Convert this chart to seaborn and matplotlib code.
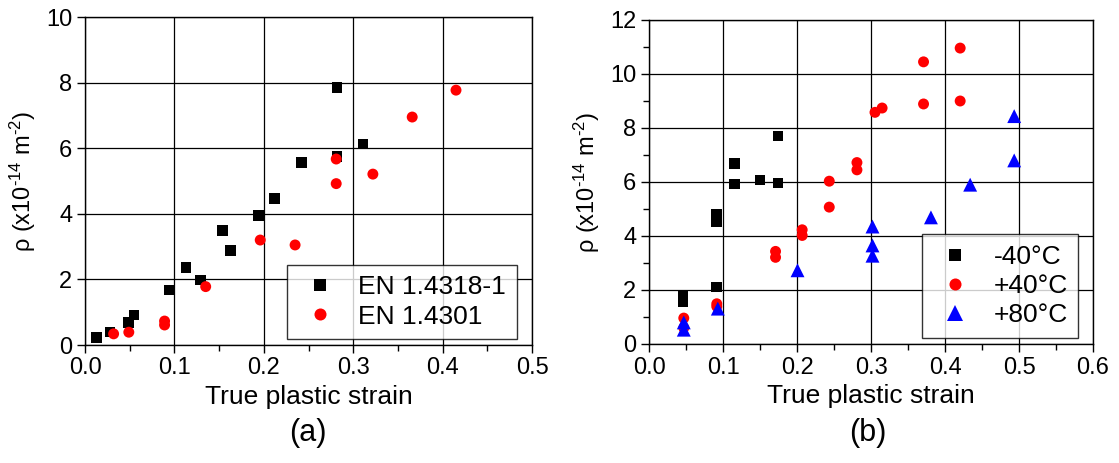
import matplotlib
matplotlib.use("Agg")
import matplotlib.pyplot as plt
import seaborn as sns
import pandas as pd
from matplotlib.ticker import MultipleLocator

# ---- data (panel a) ----
a_318_x = [0.013, 0.028, 0.0485, 0.055, 0.094, 0.113, 0.129, 0.154, 0.163, 0.194, 0.212, 0.242, 0.282, 0.282, 0.311]
a_318_y = [0.23, 0.39, 0.68, 0.92, 1.68, 2.37, 1.98, 3.49, 2.88, 3.94, 4.46, 5.57, 7.85, 5.75, 6.13]
a_301_x = [0.032, 0.049, 0.089, 0.089, 0.135, 0.196, 0.235, 0.281, 0.281, 0.322, 0.366, 0.415]
a_301_y = [0.34, 0.39, 0.73, 0.61, 1.78, 3.20, 3.05, 5.67, 4.92, 5.21, 6.95, 7.77]
a_labels = ["EN 1.4318-1", "EN 1.4301"]

# ---- data (panel b) ----
b_m40_x = [0.046, 0.046, 0.0916, 0.0916, 0.0916, 0.1155, 0.1155, 0.150, 0.1746, 0.1746]
b_m40_y = [1.76, 1.58, 2.11, 4.79, 4.54, 6.68, 5.93, 6.08, 7.71, 5.97]
b_p40_x = [0.047, 0.047, 0.0916, 0.0916, 0.171, 0.171, 0.207, 0.207, 0.2436, 0.2436,
           0.281, 0.281, 0.3054, 0.315, 0.371, 0.371, 0.4205, 0.4205]
b_p40_y = [0.96, 0.60, 1.49, 1.39, 3.43, 3.21, 4.23, 4.02, 6.03, 5.07,
           6.72, 6.45, 8.58, 8.74, 10.45, 8.89, 10.96, 9.00]
b_p80_x = [0.047, 0.047, 0.093, 0.2007, 0.302, 0.302, 0.302, 0.381, 0.434, 0.4935, 0.4935]
b_p80_y = [0.80, 0.53, 1.31, 2.73, 4.35, 3.65, 3.27, 4.69, 5.90, 8.44, 6.80]
b_labels = ["-40°C", "+40°C", "+80°C"]

sns.set_theme(style="white")
plt.rcParams['font.family'] = ['Liberation Sans', 'DejaVu Sans']
plt.rcParams['mathtext.fontset'] = 'custom'
plt.rcParams['mathtext.rm'] = 'Liberation Sans'
plt.rcParams['mathtext.it'] = 'Liberation Sans'
for k in ['text.color', 'axes.labelcolor', 'xtick.color', 'ytick.color', 'axes.edgecolor']:
    plt.rcParams[k] = 'black'

df_a = pd.DataFrame({
    "x": a_318_x + a_301_x,
    "y": a_318_y + a_301_y,
    "grp": [a_labels[0]] * len(a_318_x) + [a_labels[1]] * len(a_301_x),
})
df_b = pd.DataFrame({
    "x": b_m40_x + b_p40_x + b_p80_x,
    "y": b_m40_y + b_p40_y + b_p80_y,
    "grp": [b_labels[0]] * len(b_m40_x) + [b_labels[1]] * len(b_p40_x) + [b_labels[2]] * len(b_p80_x),
})

fig = plt.figure(figsize=(11.19, 4.63), dpi=100)
ax1 = fig.add_axes([85/1119, 1-345/463, 447/1119, 328/463])
ax2 = fig.add_axes([649/1119, 1-344/463, 444/1119, 324/463])

pal_a = {a_labels[0]: "black", a_labels[1]: "#ff0000"}
mk_a = {a_labels[0]: "s", a_labels[1]: "o"}
sz_a = {a_labels[0]: 58, a_labels[1]: 62}
pal_b = {b_labels[0]: "black", b_labels[1]: "#ff0000", b_labels[2]: "#0000ff"}
mk_b = {b_labels[0]: "s", b_labels[1]: "o", b_labels[2]: "^"}
sz_b = {b_labels[0]: 58, b_labels[1]: 62, b_labels[2]: 100}

sns.scatterplot(data=df_a, x="x", y="y", hue="grp", style="grp", size="grp",
                palette=pal_a, markers=mk_a, sizes=sz_a, linewidth=0, ax=ax1, zorder=3)
sns.scatterplot(data=df_b, x="x", y="y", hue="grp", style="grp", size="grp",
                palette=pal_b, markers=mk_b, sizes=sz_b, linewidth=0, ax=ax2, zorder=3)

ylab = r"ρ (x10$^{\text{-14}}$ m$^{\text{-2}}$)"
for ax, xmax, ymax, ystep, yminor in [(ax1, 0.5, 10, 2, None), (ax2, 0.6, 12, 2, 1)]:
    ax.set_xlim(0, xmax)
    ax.set_ylim(0, ymax)
    ax.xaxis.set_major_locator(MultipleLocator(0.1))
    ax.xaxis.set_minor_locator(MultipleLocator(0.05))
    ax.yaxis.set_major_locator(MultipleLocator(ystep))
    if yminor:
        ax.yaxis.set_minor_locator(MultipleLocator(yminor))
    ax.xaxis.set_major_formatter(matplotlib.ticker.FormatStrFormatter('%.1f'))
    ax.grid(True, which='major', color='black', linewidth=0.9)
    ax.set_axisbelow(True)
    for sp in ax.spines.values():
        sp.set_color('black')
        sp.set_linewidth(1.0)
    ax.tick_params(which='major', direction='out', length=6, width=1, color='black',
                   labelsize=17, labelcolor='black', left=True, bottom=True, pad=3)
    ax.tick_params(which='minor', direction='out', length=4, width=1, color='black',
                   left=True, bottom=True)
    ax.set_xlabel("True plastic strain", fontsize=19, labelpad=4, color='black')
    ax.set_ylabel(ylab, fontsize=17, labelpad=6, color='black')

for ax, anchor in [(ax1, (0.966, 0.018)), (ax2, (0.967, 0.0185))]:
    leg = ax.legend(loc='lower right', bbox_to_anchor=anchor, borderaxespad=0,
                    fontsize=19, frameon=True, fancybox=False, edgecolor='black',
                    handlelength=1.75, handletextpad=0.57, borderpad=0.4,
                    labelspacing=0.2, markerscale=1.1)
    leg.get_frame().set_linewidth(1.0)
    for t in leg.get_texts():
        t.set_color('black')

fig.text(308/1119, 1-433/463, "(a)", ha='center', va='center', fontsize=22)
fig.text(868/1119, 1-433/463, "(b)", ha='center', va='center', fontsize=22)

fig.savefig("out.png", dpi=100)
